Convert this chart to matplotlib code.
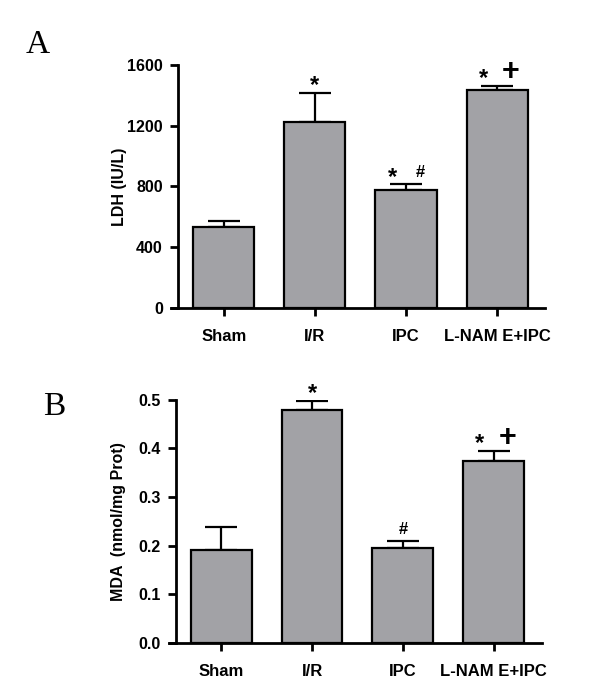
import matplotlib
matplotlib.use("Agg")
import matplotlib.pyplot as plt
import numpy as np

plt.rcParams['font.family'] = ['Liberation Sans', 'DejaVu Sans']
plt.rcParams['font.weight'] = 'bold'

groups = ["Sham", "I/R", "IPC", "L-NAM E+IPC"]

# panel A: LDH
ldh_mean = [535, 1223, 776, 1433]
ldh_err = [38, 194, 37, 28]
ldh_marks = [[], ["*"], ["*", "#"], ["*", "+"]]

# panel B: MDA
mda_mean = [0.192, 0.479, 0.195, 0.375]
mda_err = [0.047, 0.019, 0.014, 0.019]
mda_marks = [[], ["*"], ["#"], ["*", "+"]]

bar_color = "#a2a2a6"


def draw_panel(ax, means, errs, marks, ylim, yticks, yfmt, ylabel, label_x):
    x = np.arange(len(groups))
    ax.bar(x, means, width=0.67, color=bar_color, edgecolor="black", linewidth=1.6, zorder=2)
    ax.errorbar(x, means, yerr=[np.zeros(len(errs)), errs], fmt="none", ecolor="black",
                elinewidth=1.6, capsize=11.5, capthick=1.6, zorder=1)
    ax.set_xlim(-0.5, 3.53)
    ax.set_ylim(*ylim)
    ax.set_yticks(yticks)
    ax.set_yticklabels([yfmt.format(v) for v in yticks])
    ax.set_xticks(x)
    ax.set_xticklabels(groups)
    ax.set_ylabel(ylabel, fontsize=11.5, fontweight="bold")
    ax.yaxis.set_label_coords(label_x, 0.5)
    for s in ["top", "right"]:
        ax.spines[s].set_visible(False)
    for s in ["left", "bottom"]:
        ax.spines[s].set_linewidth(2)
    ax.spines["bottom"].set_bounds(-0.58, 3.53)
    ax.tick_params(axis="both", width=2, length=6, labelsize=11.5, pad=5)
    ax.tick_params(axis="x", labelsize=12, pad=9)
    for i, mk in enumerate(marks):
        top = means[i] + errs[i]
        offs = [0] if len(mk) == 1 else [-10, 10]
        for m, dx in zip(mk, offs):
            size = {"*": 17, "#": 12, "+": 22}[m]
            dy = {"*": -3, "#": 3, "+": -1}[m]
            ax.annotate(m, (x[i], top), xytext=(dx, dy), textcoords="offset points",
                        ha="center", va="bottom", fontsize=size, fontweight="bold")


fig = plt.figure(figsize=(6, 6.97), dpi=100)
ax1 = fig.add_axes([0.297, 0.558, 0.612, 0.349])
ax2 = fig.add_axes([0.293, 0.0775, 0.61, 0.349])

draw_panel(ax1, ldh_mean, ldh_err, ldh_marks, (0, 1600), [0, 400, 800, 1200, 1600], "{:d}",
           "LDH (IU/L)", -0.139)
draw_panel(ax2, mda_mean, mda_err, mda_marks, (0, 0.5), [0.0, 0.1, 0.2, 0.3, 0.4, 0.5], "{:.1f}",
           "MDA  (nmol/mg Prot)", -0.137)

fig.text(0.042, 0.924, "A", fontsize=24, family="Liberation Serif", fontweight="normal")
fig.text(0.072, 0.405, "B", fontsize=24, family="Liberation Serif", fontweight="normal")

fig.savefig("out.png", dpi=100)
